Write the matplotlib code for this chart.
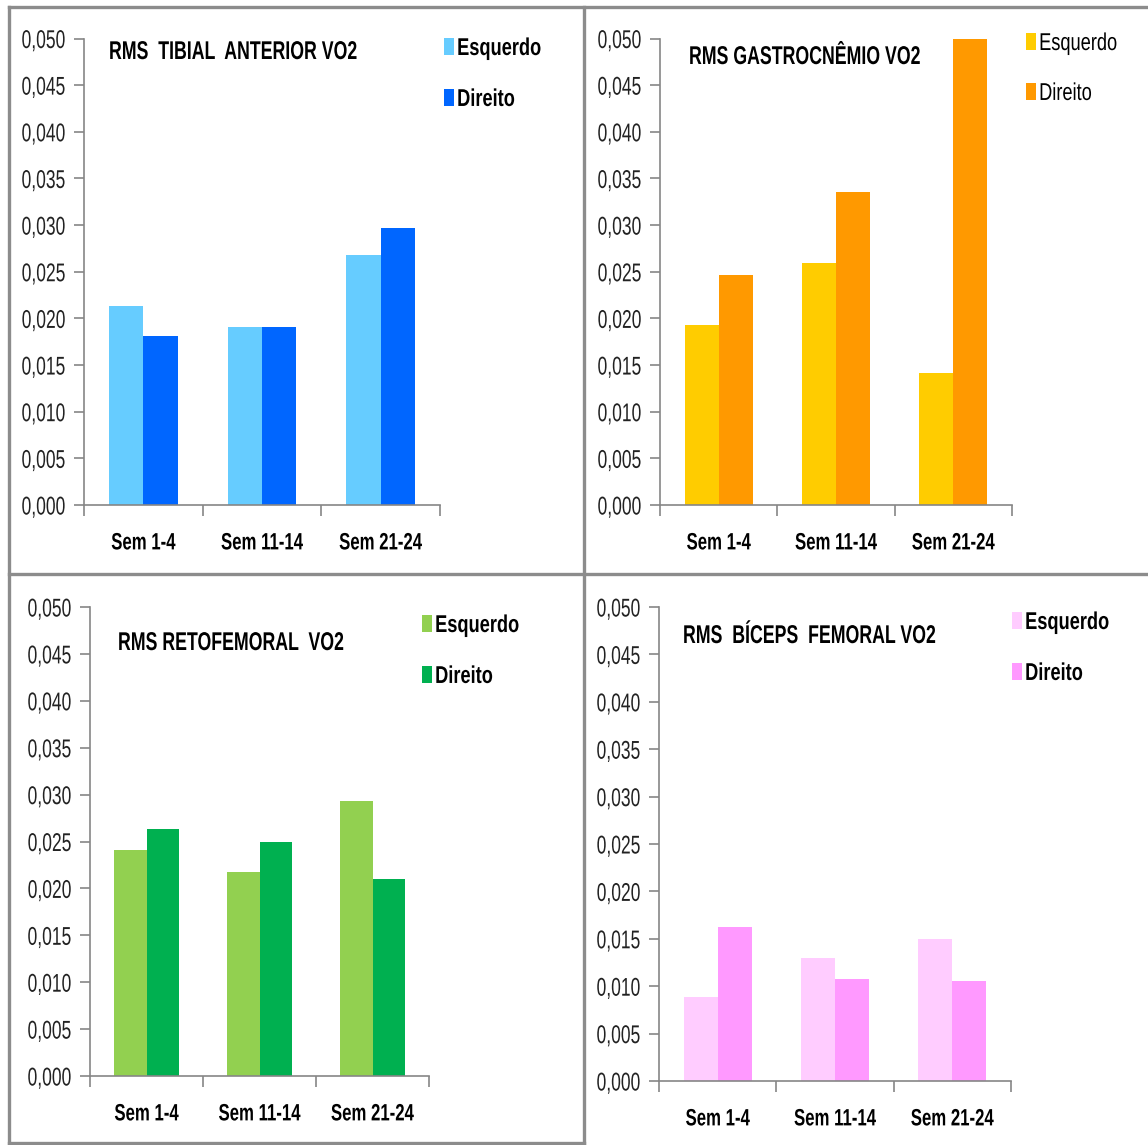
import matplotlib
matplotlib.use('Agg')
import matplotlib.pyplot as plt
from matplotlib.patheffects import AbstractPathEffect
from matplotlib.transforms import Affine2D
from matplotlib.ticker import FuncFormatter, FixedLocator
import numpy as np

categories = ['Sem 1-4', 'Sem 11-14', 'Sem 21-24']
series_names = ['Esquerdo', 'Direito']

tibial_esq = [0.0213, 0.0191, 0.0268]
tibial_dir = [0.0181, 0.0191, 0.0297]
gastro_esq = [0.0193, 0.0259, 0.0141]
gastro_dir = [0.0246, 0.0335, 0.0500]
reto_esq = [0.0241, 0.0217, 0.0293]
reto_dir = [0.0263, 0.0249, 0.0210]
biceps_esq = [0.0089, 0.0130, 0.0150]
biceps_dir = [0.0162, 0.0108, 0.0106]

W, H = 1148, 1145
fig = plt.figure(figsize=(W / 100, H / 100), dpi=100)
fig.patch.set_facecolor('white')

FONT = ['Liberation Sans', 'DejaVu Sans']
AXIS_GRAY = '#868686'
SQUEEZE = 0.71


class Squeeze(AbstractPathEffect):
    """Narrow a text horizontally (no condensed font installed)."""

    def __init__(self, sx=SQUEEZE, anchor='left'):
        super().__init__()
        self.sx = sx
        self.anchor = anchor

    def draw_path(self, renderer, gc, tpath, affine, rgbFace=None):
        ext = tpath.get_extents()
        if self.anchor == 'right':
            x0 = ext.x1
        elif self.anchor == 'center':
            x0 = (ext.x0 + ext.x1) / 2
        else:
            x0 = 0
        t = Affine2D().translate(-x0, 0).scale(self.sx, 1).translate(x0, 0) + affine
        renderer.draw_path(gc, tpath, t, rgbFace)


def px_axes(x0, y0, x1, y1):
    return fig.add_axes([x0 / W, 1 - y1 / H, (x1 - x0) / W, (y1 - y0) / H])


def comma_fmt(v, pos):
    return f'{v:.3f}'.replace('.', ',')


panels = [
    dict(box=(84, 38.5, 440, 505), title='RMS  TIBIAL  ANTERIOR VO2', tpos=(109, 52),
         data=(tibial_esq, tibial_dir), colors=('#66CCFF', '#0066FF'),
         leg=(444, 37), leg_bold=True),
    dict(box=(660, 38.5, 1012, 505), title='RMS GASTROCNÊMIO VO2', tpos=(689, 57),
         data=(gastro_esq, gastro_dir), colors=('#FFCC00', '#FF9900'),
         leg=(1026, 33), leg_bold=False),
    dict(box=(90, 607, 429, 1076), title='RMS RETOFEMORAL  VO2', tpos=(118, 643),
         data=(reto_esq, reto_dir), colors=('#92D050', '#00B050'),
         leg=(422, 614), leg_bold=True),
    dict(box=(659, 607, 1011, 1081), title='RMS  BÍCEPS  FEMORAL VO2', tpos=(683, 636),
         data=(biceps_esq, biceps_dir), colors=('#FFCCFF', '#FF99FF'),
         leg=(1012, 611), leg_bold=True),
]

x = np.arange(len(categories)) + 0.5
bw = 0.29

for p in panels:
    ax = px_axes(*p['box'])
    esq, dire = p['data']
    b1 = ax.bar(x - bw / 2, esq, bw, color=p['colors'][0], label=series_names[0])
    b2 = ax.bar(x + bw / 2, dire, bw, color=p['colors'][1], label=series_names[1])
    ax.set_xlim(0, 3)
    ax.set_ylim(0, 0.05)
    ax.set_yticks(np.arange(0, 0.0501, 0.005))
    ax.yaxis.set_major_formatter(FuncFormatter(comma_fmt))
    ax.set_xticks(x)
    ax.set_xticklabels(categories, fontsize=17, fontweight='bold', family=FONT)
    ax.xaxis.set_minor_locator(FixedLocator([0, 1, 2, 3]))
    ax.tick_params(axis='x', which='major', length=0, pad=19)
    ax.tick_params(axis='x', which='minor', length=8, width=1.2, color=AXIS_GRAY, direction='out')
    ax.tick_params(axis='y', length=7, width=1.2, color=AXIS_GRAY, pad=6, labelsize=18.5,
                   labelcolor='#222222')
    for lab in ax.get_yticklabels():
        lab.set_family(FONT)
        lab.set_path_effects([Squeeze(0.68, anchor='right')])
    for lab in ax.get_xticklabels():
        lab.set_path_effects([Squeeze(anchor='center')])
    for s in ('top', 'right'):
        ax.spines[s].set_visible(False)
    for s in ('left', 'bottom'):
        ax.spines[s].set_color(AXIS_GRAY)
        ax.spines[s].set_linewidth(1.2)

    tx, ty = p['tpos']
    fig.text(tx / W, 1 - ty / H, p['title'], fontsize=18.5, fontweight='bold',
             family=FONT, va='center', ha='left',
             path_effects=[Squeeze(0.69)])

    lx, ly = p['leg']
    leg = ax.legend(handles=[b1, b2], loc='upper left',
                    bbox_to_anchor=(lx / W, 1 - ly / H), bbox_transform=fig.transFigure,
                    frameon=False, handlelength=0.42, handleheight=0.68, handletextpad=0.12,
                    labelspacing=1.15, borderaxespad=0, borderpad=0,
                    prop=dict(family=FONT, size=17.5,
                              weight='bold' if p['leg_bold'] else 'normal'))
    for t in leg.get_texts():
        t.set_path_effects([Squeeze(0.75)])

# panel borders
BORDER = '#8C8C8C'
lines = [
    ((9, 7), (1148, 7)),       # top
    ((9, 7), (9, 1145)),       # left
    ((584, 7), (584, 1145)),   # middle vertical
    ((9, 574), (1148, 574)),   # middle horizontal
    ((9, 1143), (584, 1143)),  # bottom left panel
]
for (x0, y0), (x1, y1) in lines:
    fig.add_artist(plt.Line2D([x0 / W, x1 / W], [1 - y0 / H, 1 - y1 / H],
                              transform=fig.transFigure, color=BORDER, linewidth=2.4))

fig.savefig('out.png', dpi=100)
